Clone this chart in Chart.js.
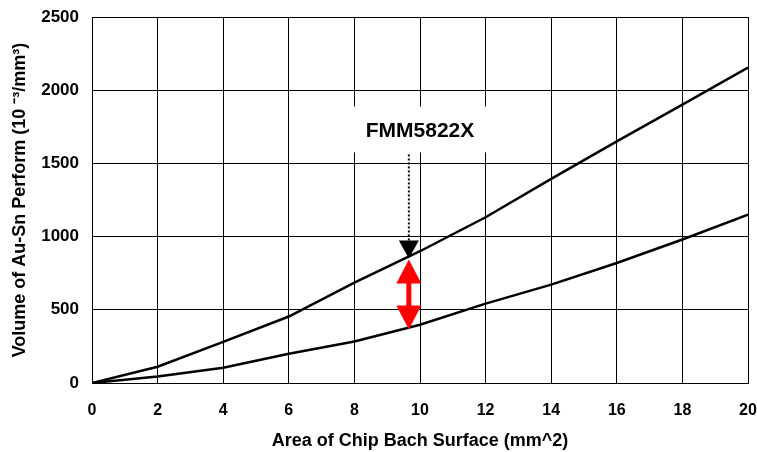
<!DOCTYPE html>
<html>
<head>
<meta charset="utf-8">
<script src="https://cdn.jsdelivr.net/npm/chart.js@4/dist/chart.umd.min.js"></script>
<style>
html,body{margin:0;padding:0;background:#fff;}
#wrap{width:757px;height:452px;position:relative;}
</style>
</head>
<body>
<div id="wrap"><canvas id="c" width="757" height="452"></canvas></div>
<script>
// ---- data ----
const xValues = [0, 2, 4, 6, 8, 10, 12, 14, 16, 18, 20];
const upperSeries = [0, 111, 281, 454, 685, 900, 1132, 1394, 1651, 1902, 2155];
const lowerSeries = [0, 44, 104, 200, 283, 398, 542, 672, 820, 980, 1150];
const xTicks = [0, 2, 4, 6, 8, 10, 12, 14, 16, 18, 20];
const yTicks = [0, 500, 1000, 1500, 2000, 2500];
const xTitle = 'Area of Chip Bach Surface (mm^2)';
const yTitle = 'Volume of Au-Sn Perform (10 \u207B\u00B3/mm\u00B3)';
const labelText = 'FMM5822X';
const labelX = 10;      // data x of label centre
const labelY = 1725;    // data y of label centre
const arrowX = 9.66;    // data x of the arrows

const FONT = '"Liberation Sans", Arial, Helvetica, sans-serif';

function pairs(xs, ys){ return xs.map((x,i)=>({x:x, y:ys[i]})); }
function interp(xs, ys, x){
  for(let i=0;i<xs.length-1;i++){
    if(x>=xs[i] && x<=xs[i+1]){
      const t=(x-xs[i])/(xs[i+1]-xs[i]);
      return ys[i]+t*(ys[i+1]-ys[i]);
    }
  }
  return ys[ys.length-1];
}

const annotationPlugin = {
  id: 'fmmAnnot',
  afterDatasetsDraw(chart){
    const ctx = chart.ctx;
    const xs = chart.scales.x, ys = chart.scales.y;
    const ax = xs.getPixelForValue(arrowX);
    const upPx = ys.getPixelForValue(interp(xValues, upperSeries, arrowX));
    const loPx = ys.getPixelForValue(interp(xValues, lowerSeries, arrowX));
    const lx = xs.getPixelForValue(labelX);
    const ly = ys.getPixelForValue(labelY);
    ctx.save();
    // white label box
    ctx.fillStyle = '#fff';
    ctx.fillRect(lx - 68, ly - 24, 136, 46);
    ctx.fillStyle = '#000';
    ctx.font = 'bold 21px ' + FONT;
    ctx.textAlign = 'center';
    ctx.textBaseline = 'middle';
    ctx.fillText(labelText, lx, ly + 1);
    // dotted line
    const triTop = upPx + 2 - 18;
    ctx.strokeStyle = '#000';
    ctx.lineWidth = 2;
    ctx.setLineDash([2, 2]);
    ctx.beginPath();
    ctx.moveTo(ax, ly + 24);
    ctx.lineTo(ax, triTop);
    ctx.stroke();
    ctx.setLineDash([]);
    // black triangle
    ctx.beginPath();
    ctx.moveTo(ax - 10, triTop);
    ctx.lineTo(ax + 10, triTop);
    ctx.lineTo(ax, upPx + 2);
    ctx.closePath();
    ctx.fill();
    // red double arrow
    const top = upPx + 3, bot = loPx + 2, hh = 24, hw = 12.5;
    ctx.fillStyle = '#ff0000';
    ctx.beginPath();
    ctx.moveTo(ax, top);
    ctx.lineTo(ax + hw, top + hh);
    ctx.lineTo(ax - hw, top + hh);
    ctx.closePath();
    ctx.fill();
    ctx.beginPath();
    ctx.moveTo(ax, bot);
    ctx.lineTo(ax + hw, bot - hh);
    ctx.lineTo(ax - hw, bot - hh);
    ctx.closePath();
    ctx.fill();
    ctx.fillRect(ax - 2.5, top + hh - 1, 5, (bot - hh) - (top + hh) + 2);
    ctx.restore();
  }
};

new Chart(document.getElementById('c'), {
  type: 'line',
  data: {
    datasets: [
      { data: pairs(xValues, upperSeries), borderColor: '#000', borderWidth: 2.5, pointRadius: 0, tension: 0, fill: false },
      { data: pairs(xValues, lowerSeries), borderColor: '#000', borderWidth: 2.5, pointRadius: 0, tension: 0, fill: false }
    ]
  },
  options: {
    responsive: false,
    animation: false,
    devicePixelRatio: 1,
    layout: { padding: { top: 17, right: 9, left: 0, bottom: 0 } },
    plugins: { legend: { display: false }, tooltip: { enabled: false } },
    scales: {
      x: {
        type: 'linear', min: 0, max: 20,
        afterBuildTicks(s){ s.ticks = xTicks.map(v=>({value:v})); },
        afterFit(s){ s.height = 69; s.paddingLeft = 0; s.paddingRight = 0; },
        grid: { color: '#000', lineWidth: 1, drawTicks: false },
        border: { color: '#000', width: 1 },
        ticks: { color: '#000', font: { family: FONT, size: 16, weight: 'bold' }, padding: 18, maxRotation: 0, callback: v => String(v) },
        title: { display: true, text: xTitle, color: '#000', font: { family: FONT, size: 18, weight: 'bold' }, padding: { top: 0, bottom: 0 } }
      },
      y: {
        type: 'linear', min: 0, max: 2500,
        afterBuildTicks(s){ s.ticks = yTicks.map(v=>({value:v})); },
        afterFit(s){ s.width = 92; s.paddingTop = 0; s.paddingBottom = 0; },
        grid: { color: '#000', lineWidth: 1, drawTicks: false },
        border: { color: '#000', width: 1 },
        ticks: { color: '#000', font: { family: FONT, size: 17, weight: 'bold' }, padding: 13, callback: v => String(v) },
        title: { display: true, text: yTitle, color: '#000', font: { family: FONT, size: 18, weight: 'bold' }, padding: { top: 9, bottom: 0 } }
      }
    }
  },
  plugins: [annotationPlugin]
});
</script>
</body>
</html>
